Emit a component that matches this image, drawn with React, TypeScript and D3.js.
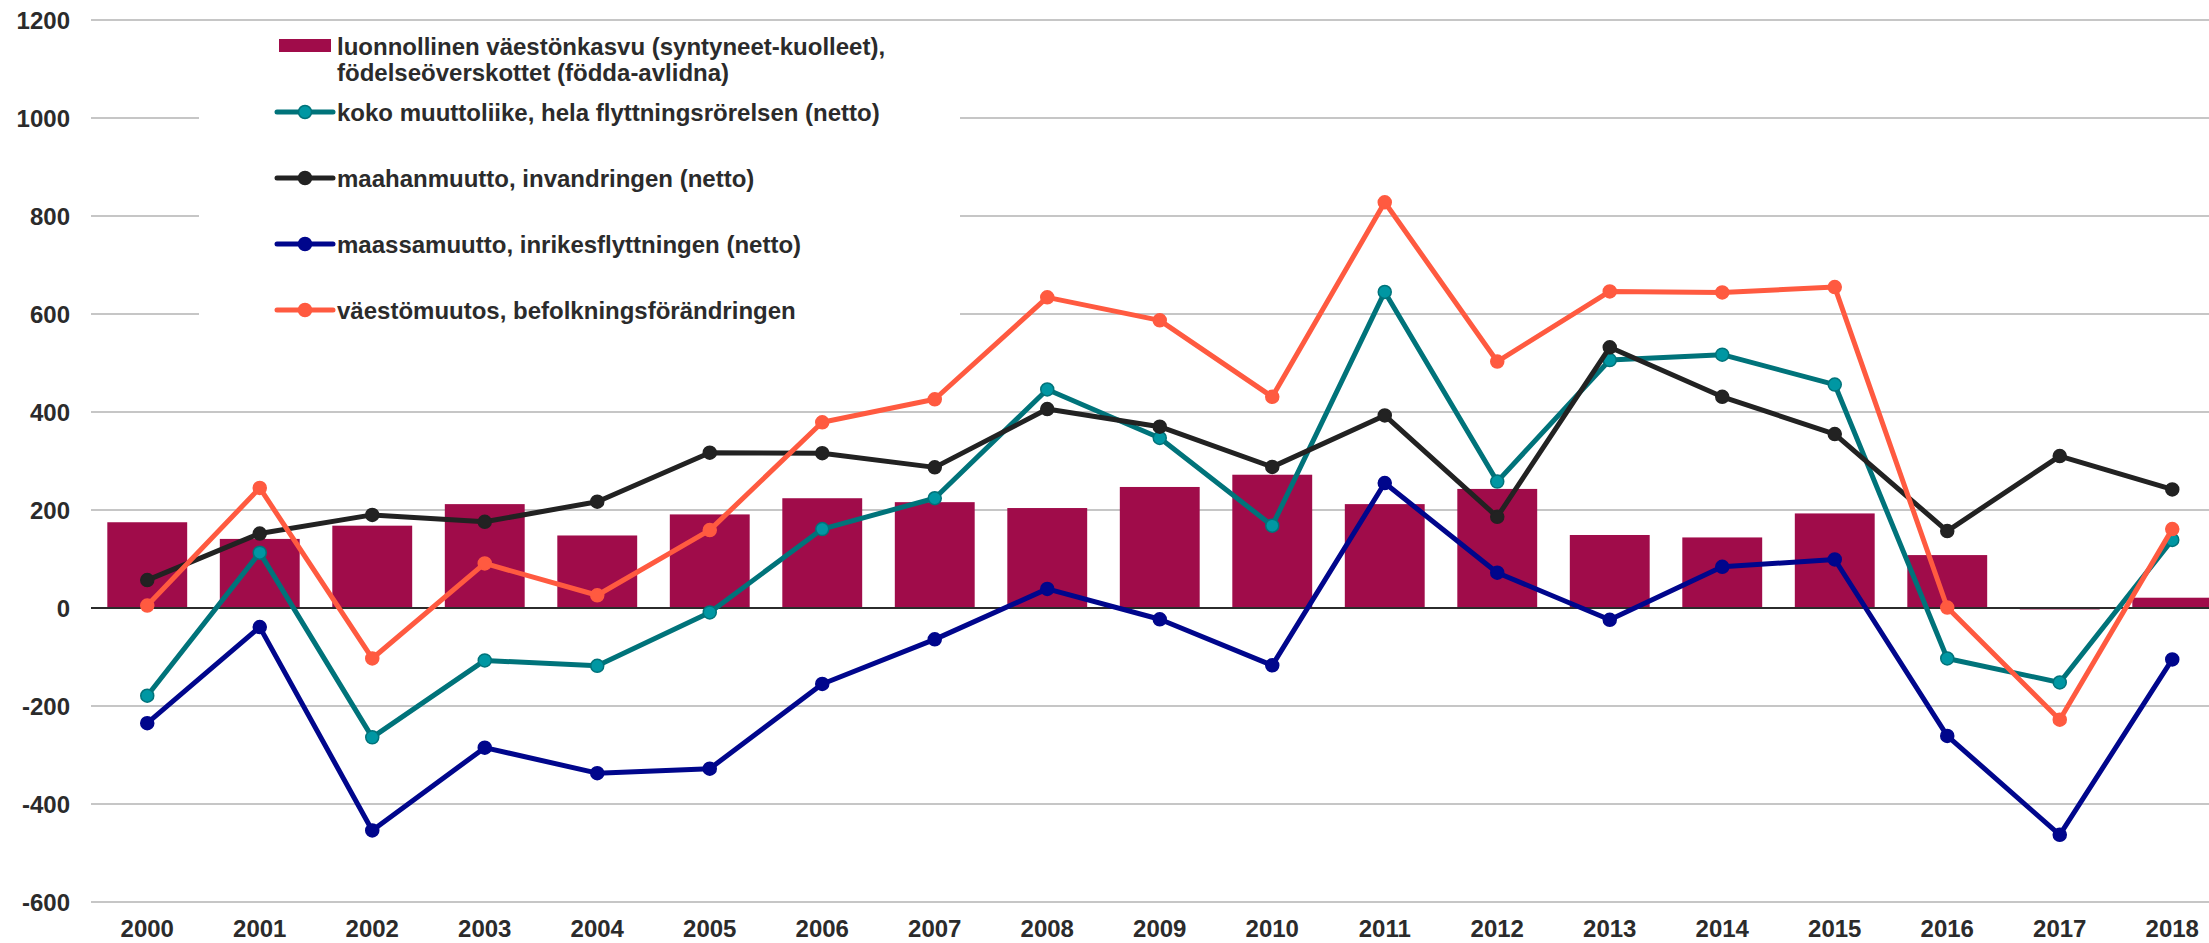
import React, { useEffect, useRef } from "react";
import { select, scaleBand, scaleLinear, line } from "d3";

// chart data
const years = [
  "2000", "2001", "2002", "2003", "2004", "2005", "2006", "2007", "2008", "2009",
  "2010", "2011", "2012", "2013", "2014", "2015", "2016", "2017", "2018"
];
const naturalGrowth = [175, 141, 168, 212, 148, 191, 224, 216, 204, 247, 272, 212, 243, 149, 144, 193, 108, -3, 21];
const totalMigration = [-179, 113, -264, -107, -118, -9, 161, 224, 446, 347, 168, 645, 258, 506, 517, 456, -103, -152, 139];
const immigration = [57, 152, 190, 176, 217, 317, 316, 287, 406, 370, 288, 393, 186, 532, 431, 355, 157, 310, 242];
const internalMigration = [-235, -39, -454, -285, -337, -328, -155, -64, 39, -23, -117, 255, 72, -24, 84, 99, -261, -463, -105];
const populationChange = [5, 245, -103, 91, 26, 159, 379, 426, 634, 587, 431, 828, 503, 646, 644, 655, 1, -228, 161];
const yTicks = [-600, -400, -200, 0, 200, 400, 600, 800, 1000, 1200];

const barLabel = [
  "luonnollinen väestönkasvu (syntyneet-kuolleet),",
  "födelseöverskottet (födda-avlidna)"
];
const lineLabels = [
  "koko muuttoliike, hela flyttningsrörelsen (netto)",
  "maahanmuutto, invandringen (netto)",
  "maassamuutto, inrikesflyttningen (netto)",
  "väestömuutos, befolkningsförändringen"
];

const series = [
  { label: lineLabels[0], values: totalMigration, color: "#00737a", marker: "#0097a3" },
  { label: lineLabels[1], values: immigration, color: "#222222", marker: "#222222" },
  { label: lineLabels[2], values: internalMigration, color: "#00068c", marker: "#00068c" },
  { label: lineLabels[3], values: populationChange, color: "#ff5a40", marker: "#ff5a40" }
];

const WIDTH = 2209;
const HEIGHT = 943;
const FONT = "'Liberation Sans', Arial, sans-serif";
const TEXT = "#2b2b2b";

function PopulationChart() {
  const svgRef = useRef<SVGSVGElement>(null);

  useEffect(() => {
    const svg = select(svgRef.current);

    const x = scaleBand()
      .domain(years)
      .range([91, 2228.5])
      .paddingInner(0.29)
      .paddingOuter(0.145);
    const y = scaleLinear().domain([-600, 1200]).range([902, 20]);
    const cx = (i: number) => (x(years[i]) as number) + x.bandwidth() / 2;

    // grid
    svg
      .select(".grid")
      .selectAll("line")
      .data(yTicks.filter(t => t !== 0))
      .join("line")
      .attr("x1", 91)
      .attr("x2", WIDTH)
      .attr("y1", d => y(d))
      .attr("y2", d => y(d))
      .attr("stroke", "#c6c6c6")
      .attr("stroke-width", 2);

    // y labels
    svg
      .select(".y-axis")
      .selectAll("text")
      .data(yTicks)
      .join("text")
      .attr("x", 70)
      .attr("y", d => y(d))
      .attr("dy", "0.36em")
      .attr("text-anchor", "end")
      .text(d => String(d));

    // x labels
    svg
      .select(".x-axis")
      .selectAll("text")
      .data(years)
      .join("text")
      .attr("x", (d, i) => cx(i))
      .attr("y", 937)
      .attr("text-anchor", "middle")
      .text(d => d);

    // legend background hides the grid behind it
    svg
      .select(".legend-bg")
      .attr("x", 199)
      .attr("y", 25)
      .attr("width", 761)
      .attr("height", 311)
      .attr("fill", "#ffffff");

    // bars
    svg
      .select(".bars")
      .selectAll("rect")
      .data(naturalGrowth)
      .join("rect")
      .attr("x", (d, i) => x(years[i]) as number)
      .attr("width", x.bandwidth())
      .attr("y", d => y(Math.max(0, d)))
      .attr("height", d => Math.abs(y(d) - y(0)))
      .attr("fill", "#a00c4a");

    // zero line
    svg
      .select(".zero")
      .attr("x1", 91)
      .attr("x2", WIDTH)
      .attr("y1", y(0))
      .attr("y2", y(0))
      .attr("stroke", "#2b2b2b")
      .attr("stroke-width", 2);

    // lines + markers
    const lineGen = line<number>()
      .x((d, i) => cx(i))
      .y(d => y(d));

    const groups = svg
      .select(".lines")
      .selectAll("g")
      .data(series)
      .join("g");

    groups
      .selectAll("path")
      .data(s => [s])
      .join("path")
      .attr("d", s => lineGen(s.values))
      .attr("fill", "none")
      .attr("stroke", s => s.color)
      .attr("stroke-width", 5)
      .attr("stroke-linejoin", "round");

    groups
      .selectAll("circle")
      .data(s => s.values.map(v => ({ v, s })))
      .join("circle")
      .attr("cx", (d, i) => cx(i))
      .attr("cy", d => y(d.v))
      .attr("r", 6.5)
      .attr("fill", d => d.s.marker)
      .attr("stroke", d => d.s.color)
      .attr("stroke-width", 1.5);

    // legend
    const legend = svg.select(".legend");
    legend
      .selectAll("rect")
      .data([0])
      .join("rect")
      .attr("x", 279)
      .attr("y", 39)
      .attr("width", 52)
      .attr("height", 13)
      .attr("fill", "#a00c4a");

    legend
      .selectAll("text.bar-label")
      .data(barLabel)
      .join("text")
      .attr("class", "bar-label")
      .attr("x", 337)
      .attr("y", (d, i) => 46 + i * 26)
      .attr("dy", "0.36em")
      .text(d => d);

    const items = legend
      .selectAll("g")
      .data(series)
      .join("g")
      .attr("transform", (d, i) => `translate(0, ${112 + i * 66})`);

    items
      .selectAll("line")
      .data(s => [s])
      .join("line")
      .attr("x1", 277)
      .attr("x2", 333)
      .attr("stroke", s => s.color)
      .attr("stroke-width", 5)
      .attr("stroke-linecap", "round");

    items
      .selectAll("circle")
      .data(s => [s])
      .join("circle")
      .attr("cx", 305)
      .attr("r", 6.5)
      .attr("fill", s => s.marker)
      .attr("stroke", s => s.color)
      .attr("stroke-width", 1.5);

    items
      .selectAll("text")
      .data(s => [s])
      .join("text")
      .attr("x", 337)
      .attr("dy", "0.36em")
      .text(s => s.label);
  }, []);

  return (
    <svg
      ref={svgRef}
      width={WIDTH}
      height={HEIGHT}
      style={{ position: "absolute", left: 0, top: 0, background: "#ffffff" }}
      fontFamily={FONT}
      fontWeight="bold"
      fontSize={24}
      fill={TEXT}
    >
      <g className="grid" />
      <rect className="legend-bg" />
      <g className="bars" />
      <line className="zero" />
      <g className="lines" />
      <g className="legend" />
      <g className="y-axis" />
      <g className="x-axis" />
    </svg>
  );
}

export default function App() {
  return <PopulationChart />;
}
